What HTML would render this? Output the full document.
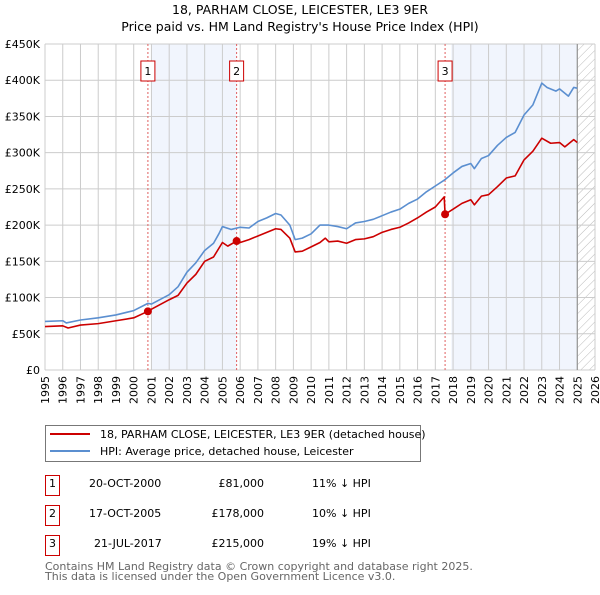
<!DOCTYPE html>
<html><head><meta charset="utf-8"><style>
body{margin:0;background:#fff;font-family:"Liberation Sans","DejaVu Sans",sans-serif;}
svg text{font-family:"DejaVu Sans","Liberation Sans",sans-serif;}
</style></head><body>
<svg id="c" width="600" height="590" xmlns="http://www.w3.org/2000/svg">
<defs><pattern id="hatch" width="6" height="6" patternUnits="userSpaceOnUse" patternTransform="rotate(45)"><line x1="0" y1="0" x2="0" y2="6" stroke="#bbb" stroke-width="1"/></pattern></defs>
<text x="300" y="14" text-anchor="middle" font-size="12.5">18, PARHAM CLOSE, LEICESTER, LE3 9ER</text>
<text x="300" y="31" text-anchor="middle" font-size="12.5">Price paid vs. HM Land Registry's House Price Index (HPI)</text>
<g id="plot"></g>
<g>
<rect x="45.5" y="425.5" width="375" height="36" fill="#fff" stroke="#777"/>
<line x1="50" y1="434" x2="90" y2="434" stroke="#cc0000" stroke-width="2"/>
<text x="100" y="438" font-size="11">18, PARHAM CLOSE, LEICESTER, LE3 9ER (detached house)</text>
<line x1="50" y1="451" x2="90" y2="451" stroke="#5b8fd0" stroke-width="2"/>
<text x="100" y="455" font-size="11">HPI: Average price, detached house, Leicester</text>
</g>
<g font-size="11">
<rect x="45.5" y="475.5" width="14" height="20" fill="none" stroke="#cc0000"/><text x="52.5" y="487" text-anchor="middle">1</text>
<text x="89" y="487">20-OCT-2000</text><text x="264" y="487" text-anchor="end">£81,000</text><text x="312" y="487">11% ↓ HPI</text>
<rect x="45.5" y="505.5" width="14" height="20" fill="none" stroke="#cc0000"/><text x="52.5" y="517" text-anchor="middle">2</text>
<text x="89" y="517">17-OCT-2005</text><text x="264" y="517" text-anchor="end">£178,000</text><text x="312" y="517">10% ↓ HPI</text>
<rect x="45.5" y="535.5" width="14" height="20" fill="none" stroke="#cc0000"/><text x="52.5" y="547" text-anchor="middle">3</text>
<text x="94" y="547">21-JUL-2017</text><text x="264" y="547" text-anchor="end">£215,000</text><text x="312" y="547">19% ↓ HPI</text>
</g>
<text x="45" y="570" font-size="11" fill="#666">Contains HM Land Registry data © Crown copyright and database right 2025.</text>
<text x="45" y="580" font-size="11" fill="#666">This data is licensed under the Open Government Licence v3.0.</text>
</svg>
<script>
const yTicks=[0,50,100,150,200,250,300,350,400,450];
const yTickLabels=["£0","£50K","£100K","£150K","£200K","£250K","£300K","£350K","£400K","£450K"];
const years=[1995,1996,1997,1998,1999,2000,2001,2002,2003,2004,2005,2006,2007,2008,2009,2010,2011,2012,2013,2014,2015,2016,2017,2018,2019,2020,2021,2022,2023,2024,2025,2026];
const hpiT=[1995,1996,1996.2,1997,1998,1999,2000,2000.8,2001,2002,2002.5,2003,2003.5,2004,2004.5,2004.8,2005,2005.5,2006,2006.5,2007,2007.5,2008,2008.3,2008.8,2009.1,2009.5,2010,2010.5,2011,2011.5,2012,2012.5,2013,2013.5,2014,2014.5,2015,2015.5,2016,2016.5,2017,2017.5,2018,2018.5,2019,2019.2,2019.6,2020,2020.5,2021,2021.5,2022,2022.5,2023,2023.3,2023.8,2024,2024.5,2024.8,2025];
const hpiV=[67,68,65,69,72,76,82,92,91,104,115,135,148,165,175,188,198,194,197,196,205,210,216,214,200,180,182,188,200,200,198,195,203,205,208,213,218,222,230,236,246,254,262,272,281,285,278,292,296,310,321,328,352,366,396,390,385,388,378,390,389];
const redT=[1995,1996,1996.3,1997,1998,1999,2000,2000.8,2001,2002,2002.5,2003,2003.5,2004,2004.5,2005,2005.3,2005.8,2006,2006.5,2007,2007.5,2008,2008.3,2008.8,2009.1,2009.5,2010,2010.5,2010.8,2011,2011.5,2012,2012.5,2013,2013.5,2014,2014.5,2015,2015.5,2016,2016.5,2017,2017.5,2017.55,2018,2018.5,2019,2019.2,2019.6,2020,2020.5,2021,2021.5,2022,2022.5,2023,2023.5,2024,2024.3,2024.8,2025];
const redV=[60,61,58,62,64,68,72,81,84,97,103,120,132,150,156,176,171,178,176,180,185,190,195,194,182,163,164,170,176,182,177,178,175,180,181,184,190,194,197,203,210,218,225,239,215,222,230,235,228,240,242,253,265,268,290,302,320,313,314,308,318,314];
const saleT=[2000.8,2005.8,2017.55];
const saleV=[81,178,215];
const saleLabels=["1","2","3"];
const X=t=>45+(t-1995)*(550/31);
const Y=v=>370-v*(326/450);
const NS="http://www.w3.org/2000/svg";
const g=document.getElementById('plot');
function mk(tag,attrs){const e=document.createElementNS(NS,tag);for(const k in attrs)e.setAttribute(k,attrs[k]);g.appendChild(e);return e;}
let r=mk('rect',{x:X(2001),y:Y(450),width:X(2005.8)-X(2001),height:Y(0)-Y(450),fill:'#eef3fc',opacity:0.8});


r=mk('rect',{x:X(2017.9),y:Y(450),width:X(2025)-X(2017.9),height:Y(0)-Y(450),fill:'#eef3fc',opacity:0.8});


r=mk('rect',{x:X(2025),y:Y(450),width:X(2026)-X(2025),height:Y(0)-Y(450),fill:'url(#hatch)'});


years.forEach(y=>{const l=mk('line',{x1:X(y),x2:X(y),y1:Y(0),y2:Y(450),stroke:'#ccc'});


const t=mk('text',{x:0,y:0,'font-size':11,'text-anchor':'end',transform:`translate(${X(y)+4},${Y(0)+6}) rotate(-90)`});t.textContent=y;

});
yTicks.forEach((v,i)=>{const l=mk('line',{x1:X(1995),x2:X(2026),y1:Y(v),y2:Y(v),stroke:'#ccc'});


const t=mk('text',{x:40,y:Y(v)+4,'font-size':11,'text-anchor':'end'});t.textContent=yTickLabels[i];

});
let vl=mk('line',{x1:X(2025),x2:X(2025),y1:Y(0),y2:Y(450),stroke:'#888'});


saleT.forEach((t,i)=>{const l=mk('line',{x1:X(t),x2:X(t),y1:Y(0),y2:Y(450),stroke:'#e06060','stroke-dasharray':'2,2'});


const b=mk('rect',{x:X(t)-7,y:61,width:14,height:20,fill:'#fff',stroke:'#cc0000'});


const tx=mk('text',{x:X(t),y:75,'font-size':11,'text-anchor':'middle'});tx.textContent=saleLabels[i];

});
function line(T,V,c,n){const p=mk('polyline',{points:T.map((t,i)=>X(t)+','+Y(V[i])).join(' '),fill:'none',stroke:c,'stroke-width':1.6,'stroke-linejoin':'round'});

}
line(hpiT,hpiV,'#5b8fd0','hpi-line');
line(redT,redV,'#cc0000','price-paid-line');
saleT.forEach((t,i)=>{const c=mk('circle',{cx:X(t),cy:Y(saleV[i]),r:4,fill:'#cc0000'});

});
</script>
</body></html>
